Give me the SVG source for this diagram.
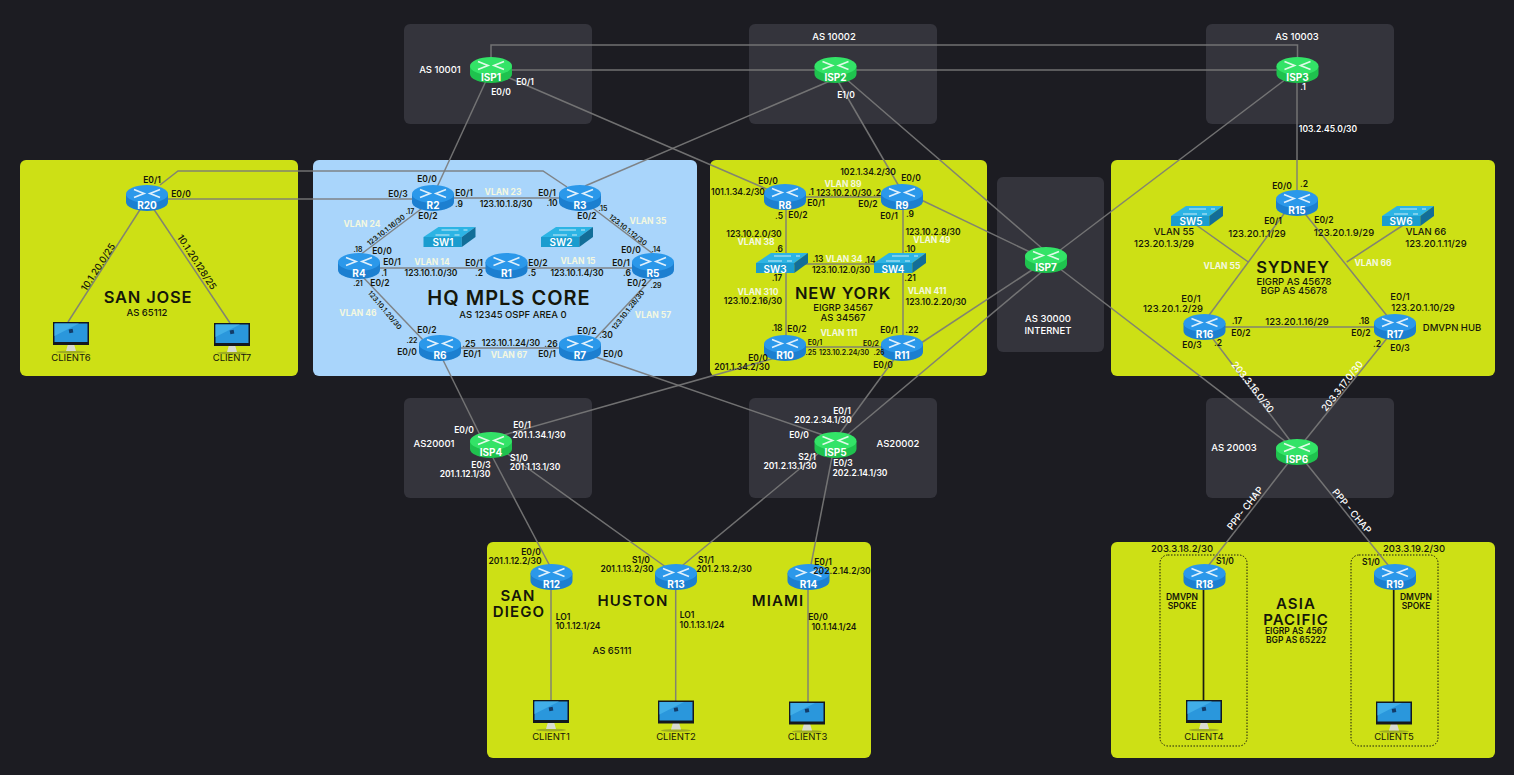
<svg xmlns="http://www.w3.org/2000/svg" width="1514" height="775" viewBox="0 0 1514 775">
<style>
text{font-family:"Inter","Noto Sans","Liberation Sans",sans-serif;font-weight:600;font-size:8.5px;fill:#15170a;text-anchor:middle;dominant-baseline:central}
.w{fill:#fff}
.v{fill:#f4f8e0;font-weight:700}
.s{font-size:7px}
.m{font-size:9.5px;font-weight:500}
.c{font-size:9.5px;font-weight:400}
.h{font-size:16.5px;font-weight:600;letter-spacing:.8px}
.h2{font-size:15px;font-weight:600;letter-spacing:1.1px}
.h3{font-size:20px;font-weight:600;letter-spacing:1px}
.n{font-size:10px;fill:#fff;font-weight:700}
.sw{font-size:10px;fill:#fff;font-weight:600}
.g{fill:#34343c}
.l{fill:#cde015}
.k{fill:none;stroke:#7a7a7a;stroke-width:1.5;stroke-opacity:.9}
.b{stroke:#1a1c10;stroke-width:1.7}
.d{fill:none;stroke:#1a1c10;stroke-width:1;stroke-dasharray:1.5 1.5}
.a{fill:none;stroke:#fff;stroke-width:1.7;stroke-opacity:.85}
</style>
<defs>
<g id="rb"><path d="M-21-4V4A21 9 0 0 0 21 4V-4Z" fill="#1c7fd0"/><ellipse cy="-4" rx="21" ry="9" fill="#2b98ea"/><path class="a" d="M-13-8.500 -3-4.500-13-.5M13-8.500 3-4.500 13-.5"/></g>
<g id="rg"><path d="M-21-4V4A21 9 0 0 0 21 4V-4Z" fill="#1fc24e"/><ellipse cy="-4" rx="21" ry="9" fill="#33e367"/><path class="a" d="M-13-8.500 -3-4.500-13-.5M13-8.500 3-4.500 13-.5"/></g>
<g id="sw"><path d="M-26 0-11-10H26L12.300 0Z" fill="#2cb4e4"/><rect x="-26" width="38.300" height="10" fill="#1b9ccf"/><path d="M12.300 0 26-10V0L12.300 10Z" fill="#126e98"/><path d="M-14-2H0M-8-7H9M5-2H10M14-7H18" fill="none" stroke="#fff" stroke-width=".9" stroke-opacity=".85"/></g>
<g id="pc"><ellipse cy="30" rx="15" ry="1.500" fill="#9fae20"/><path d="M-3 22H3L5 29H-5Z" fill="#d9dbd0"/><rect x="-18" width="36" height="23" fill="#14181e"/><rect x="-16.500" y="1.500" width="33" height="18.500" fill="#2a97dc"/><path d="M-16.500 1.500H8L-16.500 14Z" fill="#41aee8"/><rect x="-2" y="7" width="4" height="4" fill="#123c6a" transform="rotate(-10 0 9)"/></g>
</defs>
<rect width="1514" height="775" fill="#1c1c22"/>
<g id="panels">
<rect class="l" x="20" y="160" width="278" height="216" rx="6"/>
<rect x="313" y="160" width="384" height="216" rx="6" fill="#a9d5fb"/>
<rect class="l" x="710" y="160" width="277" height="216" rx="6"/>
<rect class="l" x="1111" y="160" width="384" height="216" rx="6"/>
<rect class="l" x="487" y="542" width="384" height="216" rx="6"/>
<rect class="l" x="1111" y="542" width="384" height="216" rx="6"/>
<rect class="g" x="404" y="24" width="188" height="100" rx="6"/>
<rect class="g" x="749" y="24" width="188" height="100" rx="6"/>
<rect class="g" x="1206" y="24" width="188" height="100" rx="6"/>
<rect class="g" x="404" y="398" width="188" height="100" rx="6"/>
<rect class="g" x="749" y="398" width="188" height="100" rx="6"/>
<rect class="g" x="1206" y="398" width="188" height="100" rx="6"/>
<rect class="g" x="997" y="177" width="107" height="175" rx="6"/>
<rect class="d" x="1160" y="555" width="87" height="191" rx="8"/>
<rect class="d" x="1351" y="555" width="87" height="191" rx="8"/>
</g>
<g id="connectors">
<path class="k" d="M491 60V45H1297.500V60"/>
<path class="k" d="M491 70H1297"/>
<path class="k" d="M491 70 432 198"/>
<path class="k" d="M491 70 785 197"/>
<path class="k" d="M830 81 585 186"/>
<path class="k" d="M835 76 900 188"/>
<path class="k" d="M845 78 1044 250"/>
<path class="k" d="M1297 70V203"/>
<path class="k" d="M1290 76 1055 254"/>
<path class="k" d="M1030 252 915 197"/>
<path class="k" d="M1035 268 915 347"/>
<path class="k" d="M1044 270 845 437"/>
<path class="k" d="M1055 265 1290 445"/>
<path class="k" d="M1204 327 1295 447"/>
<path class="k" d="M1392 332 1302 444"/>
<path class="k" d="M1292 458 1205 570"/>
<path class="k" d="M1302 458 1392 570"/>
<path class="k" d="M551 577V702"/>
<path class="k" d="M675.700 577V702"/>
<path class="k" d="M808 577V702"/>
<path class="k" d="M493 458 552 570"/>
<path class="k" d="M443 360 480 435"/>
<path class="k" d="M505 452 670 570"/>
<path class="k" d="M500 436 775 358"/>
<path class="k" d="M590 355 826 436"/>
<path class="k" d="M895 358 835 440"/>
<path class="k" d="M820 452 677 570"/>
<path class="k" d="M833 452 810 570"/>
<path class="k" d="M160 185 178 171H543L567 187"/>
<path class="k" d="M147 199H432"/>
<path class="k" d="M432 198H580"/>
<path class="k" d="M425 206 360 255"/>
<path class="k" d="M359 268H653"/>
<path class="k" d="M590 206 656 256"/>
<path class="k" d="M360 274 425 342"/>
<path class="k" d="M656 274 592 342"/>
<path class="k" d="M440 348H580"/>
<path class="k" d="M785 197H902"/>
<path class="k" d="M786 197V348"/>
<path class="k" d="M903 197V348"/>
<path class="k" d="M786 264H903"/>
<path class="k" d="M785 347H902"/>
<path class="k" d="M143 205 68 322"/>
<path class="k" d="M151 205 230 323"/>
<path class="k" d="M1292 203 1204 322"/>
<path class="k" d="M1298 205 1392 322"/>
<path class="k" d="M1204 327H1395"/>
<path class="k" d="M1192 222 1248.300 262"/>
<path class="k" d="M1408 222 1346.700 262"/>
<path class="b" d="M1203.500 577V702"/>
<path class="b" d="M1393.700 577V702"/>
</g>
<g id="ISP1"><use href="#rg" x="491" y="70"/><text class="n" x="491" y="77">ISP1</text></g>
<g id="ISP2"><use href="#rg" x="835.500" y="70"/><text class="n" x="835.500" y="77">ISP2</text></g>
<g id="ISP3"><use href="#rg" x="1297.500" y="70"/><text class="n" x="1297.500" y="77">ISP3</text></g>
<g id="ISP4"><use href="#rg" x="491" y="445"/><text class="n" x="491" y="452">ISP4</text></g>
<g id="ISP5"><use href="#rg" x="835.500" y="445"/><text class="n" x="835.500" y="452">ISP5</text></g>
<g id="ISP6"><use href="#rg" x="1297" y="452"/><text class="n" x="1297" y="459">ISP6</text></g>
<g id="ISP7"><use href="#rg" x="1046" y="260"/><text class="n" x="1046" y="267">ISP7</text></g>
<g id="R1"><use href="#rb" x="506.500" y="266"/><text class="n" x="506.500" y="273">R1</text></g>
<g id="R2"><use href="#rb" x="433" y="198"/><text class="n" x="433" y="205">R2</text></g>
<g id="R3"><use href="#rb" x="580" y="198"/><text class="n" x="580" y="205">R3</text></g>
<g id="R4"><use href="#rb" x="359" y="266"/><text class="n" x="359" y="273">R4</text></g>
<g id="R5"><use href="#rb" x="653" y="266"/><text class="n" x="653" y="273">R5</text></g>
<g id="R6"><use href="#rb" x="440" y="348"/><text class="n" x="440" y="355">R6</text></g>
<g id="R7"><use href="#rb" x="580" y="348"/><text class="n" x="580" y="355">R7</text></g>
<g id="R8"><use href="#rb" x="785" y="197"/><text class="n" x="785" y="205">R8</text></g>
<g id="R9"><use href="#rb" x="902" y="197"/><text class="n" x="902" y="205">R9</text></g>
<g id="R10"><use href="#rb" x="785" y="348"/><text class="n" x="785" y="355">R10</text></g>
<g id="R11"><use href="#rb" x="902" y="348"/><text class="n" x="902" y="355">R11</text></g>
<g id="R12"><use href="#rb" x="551.500" y="577"/><text class="n" x="551.500" y="584">R12</text></g>
<g id="R13"><use href="#rb" x="676" y="577"/><text class="n" x="676" y="584">R13</text></g>
<g id="R14"><use href="#rb" x="808.500" y="577"/><text class="n" x="808.500" y="584">R14</text></g>
<g id="R15"><use href="#rb" x="1297" y="203"/><text class="n" x="1297" y="210">R15</text></g>
<g id="R16"><use href="#rb" x="1204.500" y="327"/><text class="n" x="1204.500" y="334">R16</text></g>
<g id="R17"><use href="#rb" x="1395" y="327"/><text class="n" x="1395" y="334">R17</text></g>
<g id="R18"><use href="#rb" x="1204.500" y="577"/><text class="n" x="1204.500" y="584">R18</text></g>
<g id="R19"><use href="#rb" x="1395" y="577"/><text class="n" x="1395" y="584">R19</text></g>
<g id="R20"><use href="#rb" x="147" y="198"/><text class="n" x="147" y="205">R20</text></g>
<g id="SW1"><use href="#sw" x="449.500" y="237"/><text class="sw" x="443" y="242">SW1</text></g>
<g id="SW2"><use href="#sw" x="567" y="237"/><text class="sw" x="561" y="242">SW2</text></g>
<g id="SW3"><use href="#sw" x="782" y="263"/><text class="sw" x="775" y="268.500">SW3</text></g>
<g id="SW4"><use href="#sw" x="900" y="263"/><text class="sw" x="893" y="268.500">SW4</text></g>
<g id="SW5"><use href="#sw" x="1197" y="216"/><text class="sw" x="1191" y="221">SW5</text></g>
<g id="SW6"><use href="#sw" x="1408" y="216"/><text class="sw" x="1401" y="221">SW6</text></g>
<g id="CLIENT1"><use href="#pc" x="551" y="700"/><text class="c" x="551" y="736">CLIENT1</text></g>
<g id="CLIENT2"><use href="#pc" x="676" y="700.500"/><text class="c" x="676" y="736">CLIENT2</text></g>
<g id="CLIENT3"><use href="#pc" x="807" y="701.500"/><text class="c" x="807.500" y="736">CLIENT3</text></g>
<g id="CLIENT4"><use href="#pc" x="1204" y="700"/><text class="c" x="1204" y="736">CLIENT4</text></g>
<g id="CLIENT5"><use href="#pc" x="1394" y="701.500"/><text class="c" x="1394" y="736">CLIENT5</text></g>
<g id="CLIENT6"><use href="#pc" x="71" y="322"/><text class="c" x="71" y="357">CLIENT6</text></g>
<g id="CLIENT7"><use href="#pc" x="232" y="323"/><text class="c" x="232" y="357">CLIENT7</text></g>
<g id="labels-top">
<text class="w m" x="440" y="69">AS 10001</text><text class="w" x="525" y="82">E0/1</text><text class="w" x="501" y="92">E0/0</text>
<text class="w m" x="834" y="36">AS 10002</text><text class="w" x="846" y="95">E1/0</text>
<text class="w m" x="1297" y="36">AS 10003</text><text class="w" x="1303" y="87">.1</text><text class="w" x="1328" y="129">103.2.45.0/30</text>
<text class="w m" x="1048" y="318">AS 30000</text><text class="w m" x="1048" y="330">INTERNET</text>
</g>
<g id="labels-hq">
<text x="427" y="179">E0/0</text><text x="398" y="194">E0/3</text><text x="464" y="193">E0/1</text><text x="459" y="204">.9</text><text x="428" y="216">E0/2</text><text class="s" x="410" y="211">.17</text>
<text class="v" x="503" y="192">VLAN 23</text><text x="506" y="204">123.10.1.8/30</text><text x="547" y="193">E0/1</text><text x="552" y="203">.10</text><text x="587" y="216">E0/2</text><text class="s" x="603" y="208">.15</text>
<text class="v" x="362" y="224">VLAN 24</text><text class="s" transform="translate(386 230) rotate(-38)">123.10.1.16/30</text><text class="s" x="358" y="249">.18</text><text x="382" y="251">E0/0</text><text x="392" y="262">E0/1</text><text x="384" y="273">.1</text>
<text class="v" x="432" y="262">VLAN 14</text><text x="431" y="273">123.10.1.0/30</text><text x="474" y="263">E0/1</text><text x="479" y="273">.2</text><text x="538" y="263">E0/2</text><text x="532" y="273">.5</text>
<text class="v" x="578" y="261">VLAN 15</text><text x="577" y="273">123.10.1.4/30</text><text x="621" y="263">E0/1</text><text x="627" y="273">.6</text><text x="631" y="250">E0/0</text><text class="s" x="656" y="249">.14</text>
<text class="v" x="648" y="221">VLAN 35</text><text class="s" transform="translate(628 230) rotate(38)">123.10.1.12/30</text><text x="637" y="283">E0/2</text><text class="s" x="656" y="285">.29</text>
<text class="s" transform="translate(628 310) rotate(-52)">123.10.1.28/30</text><text class="v" x="653" y="315">VLAN 57</text><text class="s" x="358" y="283">.21</text><text x="380" y="283">E0/2</text>
<text class="s" transform="translate(385 310) rotate(50)">123.10.1.20/30</text><text class="v" x="358" y="313">VLAN 46</text>
<text class="h3" x="509" y="298">HQ MPLS CORE</text><text class="m" x="513" y="314">AS 12345 OSPF AREA 0</text>
<text x="427" y="330">E0/2</text><text class="s" x="412" y="340">.22</text><text x="407" y="352">E0/0</text><text x="469" y="344">.25</text><text x="511" y="343">123.10.1.24/30</text><text x="551" y="344">.26</text><text x="472" y="354">E0/1</text><text class="v" x="509" y="355">VLAN 67</text><text x="547" y="354">E0/1</text><text x="587" y="331">E0/2</text><text x="606" y="335">.30</text><text x="613" y="354">E0/0</text>
</g>
<g id="labels-ny">
<text x="868" y="172">102.1.34.2/30</text><text x="911" y="178">E0/0</text><text x="768" y="181">E0/0</text><text x="738" y="192">101.1.34.2/30</text><text class="v" x="843" y="184">VLAN 89</text><text x="811" y="192">.1</text><text x="844" y="193">123.10.2.0/30</text><text x="877" y="193">.2</text><text x="816" y="203">E0/1</text><text x="868" y="204">E0/2</text>
<text x="779" y="216">.5</text><text x="798" y="215">E0/2</text><text x="889" y="216">E0/1</text><text x="910" y="214">.9</text><text x="754" y="234">123.10.2.0/30</text><text class="v" x="756" y="242">VLAN 38</text><text x="933" y="232">123.10.2.8/30</text><text class="v" x="932" y="240">VLAN 49</text>
<text x="779" y="249">.6</text><text x="910" y="249">.10</text><text x="818" y="259">.13</text><text class="v" x="844" y="259">VLAN 34</text><text x="870" y="260">.14</text><text x="841" y="270">123.10.12.0/30</text><text x="777" y="278">.17</text><text x="910" y="278">.21</text>
<text class="h" x="843" y="293">NEW YORK</text><text class="v" x="758" y="292">VLAN 310</text><text x="753" y="301">123.10.2.16/30</text><text class="v" x="927" y="291">VLAN 411</text><text x="936" y="302">123.10.2.20/30</text><text class="m" x="843" y="307">EIGRP 34567</text><text class="m" x="843" y="317">AS 34567</text>
<text x="777" y="328">.18</text><text x="797" y="329">E0/2</text><text class="v" x="839" y="333">VLAN 111</text><text x="889" y="330">E0/1</text><text x="912" y="330">.22</text><text class="s" x="815" y="342">E0/1</text><text class="s" x="871" y="343">E0/2</text><text class="s" x="811" y="352">.25</text><text class="s" x="844" y="352">123.10.2.24/30</text><text class="s" x="879" y="352">.26</text><text x="758" y="358">E0/0</text><text x="742" y="367">201.1.34.2/30</text><text x="883" y="365">E0/0</text>
</g>
<g id="labels-sydney">
<text x="1282" y="186">E0/0</text><text x="1304" y="184">.2</text><text class="m" x="1174" y="231">VLAN 55</text><text class="m" x="1164" y="243">123.20.1.3/29</text><text x="1273" y="221">E0/1</text><text class="m" x="1257" y="233">123.20.1.1/29</text><text x="1324" y="220">E0/2</text><text class="m" x="1344" y="232">123.20.1.9/29</text><text class="m" x="1426" y="231">VLAN 66</text><text class="m" x="1436" y="243">123.20.1.11/29</text>
<text class="v" x="1222" y="266">VLAN 55</text><text class="v" x="1373" y="263">VLAN 66</text><text class="h" x="1293" y="266.500">SYDNEY</text><text class="m" x="1294" y="281">EIGRP AS 45678</text><text class="m" x="1294" y="290">BGP AS 45678</text>
<text class="m" x="1191" y="298">E0/1</text><text class="m" x="1173" y="308">123.20.1.2/29</text><text x="1237" y="321">.17</text><text class="m" x="1297" y="321">123.20.1.16/29</text><text x="1364" y="321">.18</text><text class="m" x="1400" y="296">E0/1</text><text class="m" x="1423" y="307">123.20.1.10/29</text><text class="m" x="1452" y="327">DMVPN HUB</text>
<text x="1241" y="333">E0/2</text><text x="1361" y="333">E0/2</text><text x="1192" y="345">E0/3</text><text x="1218" y="343">.2</text><text x="1377" y="344">.2</text><text x="1400" y="348">E0/3</text>
<text class="w m" transform="translate(1253 387) rotate(52)">203.3.16.0/30</text><text class="w m" transform="translate(1342 386) rotate(-52)">203.3.17.0/30</text><text class="w m" x="1234" y="447">AS 20003</text><text class="w m" transform="translate(1245 508) rotate(-52)">PPP- CHAP</text><text class="w m" transform="translate(1352 511) rotate(50)">PPP - CHAP</text>
</g>
<g id="labels-asia">
<text class="m" x="1182" y="548">203.3.18.2/30</text><text x="1225" y="561">S1/0</text><text class="m" x="1414" y="548">203.3.19.2/30</text><text x="1371" y="562">S1/0</text><text x="1182" y="597">DMVPN</text><text x="1182" y="606">SPOKE</text><text x="1416" y="597">DMVPN</text><text x="1416" y="606">SPOKE</text>
<text class="h2" x="1296" y="603">ASIA</text><text class="h2" x="1296" y="619">PACIFIC</text><text x="1296" y="631">EIGRP AS 4567</text><text x="1296" y="640">BGP AS 65222</text>
</g>
<g id="labels-lower">
<text class="w" x="464" y="430">E0/0</text><text class="w" x="522" y="425">E0/1</text><text class="w" x="539" y="435">201.1.34.1/30</text><text class="w m" x="434" y="443">AS20001</text><text class="w" x="481" y="465">E0/3</text><text class="w" x="519" y="458">S1/0</text><text class="w" x="535" y="467">201.1.13.1/30</text><text class="w" x="465" y="474">201.1.12.1/30</text>
<text class="w" x="842" y="411">E0/1</text><text class="w" x="823" y="420">202.2.34.1/30</text><text class="w" x="799" y="435">E0/0</text><text class="w m" x="898" y="443">AS20002</text><text class="w" x="807" y="457">S2/1</text><text class="w" x="790" y="466">201.2.13.1/30</text><text class="w" x="843" y="463">E0/3</text><text class="w" x="860" y="473">202.2.14.1/30</text>
<text x="531" y="552">E0/0</text><text x="515" y="561">201.1.12.2/30</text><text x="641" y="560">S1/0</text><text x="627" y="569">201.1.13.2/30</text><text x="706" y="560">S1/1</text><text x="724" y="569">201.2.13.2/30</text><text x="823" y="562">E0/1</text><text x="842" y="571">202.2.14.2/30</text>
<text class="h2" x="518" y="595">SAN</text><text class="h2" x="519" y="611">DIEGO</text><text class="h2" x="633" y="600">HUSTON</text><text class="h2" x="778" y="600">MIAMI</text>
<text x="563" y="617">LO1</text><text x="578" y="626">10.1.12.1/24</text><text x="687" y="615">LO1</text><text x="702" y="625">10.1.13.1/24</text><text x="818" y="617">E0/0</text><text x="834" y="627">10.1.14.1/24</text><text class="m" x="612" y="650">AS 65111</text>
</g>
<g id="labels-sanjose">
<text x="152" y="180">E0/1</text><text x="181" y="194">E0/0</text><text class="m" transform="translate(98 267) rotate(-57)">10.1.20.0/25</text><text class="m" transform="translate(197 262) rotate(57)">10.1.20.128/25</text><text class="h" x="148" y="297">SAN JOSE</text><text class="m" x="147" y="312">AS 65112</text>
</g>
</svg>
